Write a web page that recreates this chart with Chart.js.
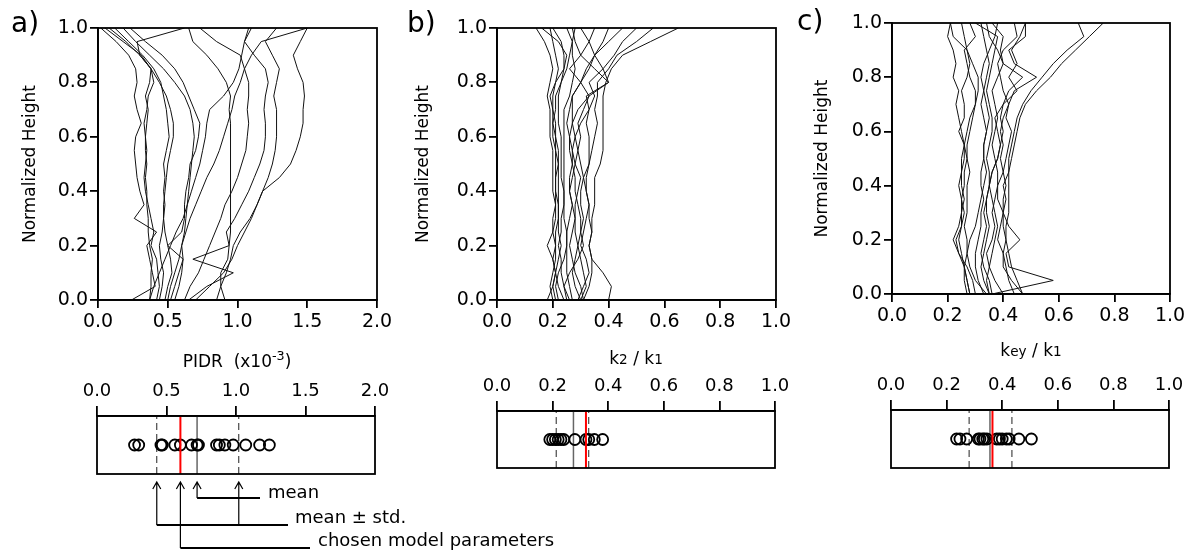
<!DOCTYPE html>
<html lang="en">
<head>
<meta charset="UTF-8">
<title>Normalized height profiles and parameter spread</title>
<script src="https://cdn.jsdelivr.net/npm/chart.js"></script>
<style>
    body { margin: 0; background: #fff; }
    #wrap { position: relative; width: 1191px; height: 552px; overflow: hidden; font-family: 'DejaVu Sans', sans-serif; color: #000; }
    canvas { position: absolute; }
    .txt { position: absolute; white-space: nowrap; line-height: 1; }
    .panel { font-size: 28px; }
    .xt { font-size: 17px; width: 200px; text-align: center; }
    .note { font-size: 18px; }
    .sb { font-size: 80%; }
</style>
</head>
<body>
<div id="wrap">
    <canvas id="profA" width="400" height="345" style="left:0;top:0"></canvas>
    <canvas id="profB" width="400" height="345" style="left:400px;top:0"></canvas>
    <canvas id="profC" width="401" height="345" style="left:790px;top:0"></canvas>
    <canvas id="stripA" width="400" height="182" style="left:0;top:370px"></canvas>
    <canvas id="stripB" width="400" height="120" style="left:400px;top:360px"></canvas>
    <canvas id="stripC" width="401" height="120" style="left:790px;top:360px"></canvas>

    <div class="txt panel" style="left:11px;top:9px">a)</div>
    <div class="txt panel" style="left:407px;top:9px">b)</div>
    <div class="txt panel" style="left:797px;top:7px">c)</div>

    <div class="txt xt" style="left:137px;top:350px">PIDR&nbsp;&nbsp;(x10<sup style="font-size:75%">-3</sup>)</div>
    <div class="txt xt" style="left:536px;top:350px">k<span class="sb">2</span> / k<span class="sb">1</span></div>
    <div class="txt xt" style="left:931px;top:342px">k<span class="sb">ey</span> / k<span class="sb">1</span></div>

    <div class="txt note" style="left:268px;top:483px">mean</div>
    <div class="txt note" style="left:295px;top:508px">mean &plusmn; std.</div>
    <div class="txt note" style="left:318px;top:531px">chosen model parameters</div>
</div>

<script>
    Chart.defaults.font.family = "'DejaVu Sans', sans-serif";
    Chart.defaults.color = '#000';

    // normalized height levels shared by all profiles
    const heights = [0, 0.05, 0.1, 0.15, 0.2, 0.25, 0.3, 0.35, 0.4, 0.45, 0.5,
                     0.55, 0.6, 0.65, 0.7, 0.75, 0.8, 0.85, 0.9, 0.95, 1.0];

    // a) PIDR (x10^-3) profiles, one row per record
    const pidrProfiles = [
        [0.24,0.41,0.39,0.37,0.35,0.42,0.26,0.33,0.30,0.28,0.27,0.26,0.27,0.31,0.28,0.26,0.28,0.27,0.22,0.13,0.02],
        [0.37,0.38,0.38,0.39,0.37,0.36,0.36,0.35,0.35,0.34,0.35,0.34,0.34,0.35,0.36,0.34,0.37,0.38,0.31,0.18,0.05],
        [0.48,0.50,0.53,0.52,0.50,0.48,0.47,0.47,0.48,0.49,0.50,0.52,0.54,0.54,0.52,0.49,0.44,0.38,0.30,0.20,0.08],
        [0.42,0.44,0.43,0.42,0.38,0.40,0.38,0.36,0.34,0.33,0.34,0.35,0.34,0.33,0.35,0.36,0.40,0.38,0.30,0.28,0.62],
        [0.44,0.46,0.47,0.45,0.44,0.46,0.47,0.48,0.47,0.48,0.47,0.49,0.51,0.50,0.49,0.47,0.45,0.40,0.32,0.22,0.12],
        [0.55,0.58,0.60,0.61,0.60,0.62,0.63,0.64,0.65,0.66,0.67,0.68,0.69,0.68,0.66,0.62,0.55,0.47,0.37,0.27,0.18],
        [0.52,0.55,0.58,0.61,0.50,0.60,0.62,0.62,0.63,0.65,0.66,0.70,0.72,0.73,0.69,0.65,0.61,0.55,0.46,0.34,0.23],
        [0.37,0.40,0.44,0.48,0.52,0.56,0.61,0.64,0.67,0.70,0.73,0.75,0.77,0.78,0.80,0.90,0.97,1.01,1.03,1.05,1.08],
        [0.91,0.88,0.88,0.93,0.94,0.95,0.95,0.95,0.95,0.95,0.95,0.95,0.95,0.95,0.94,0.95,0.92,0.86,0.78,0.68,0.65],
        [0.62,0.66,0.72,0.76,0.80,0.84,0.88,0.91,0.96,1.00,1.03,1.06,1.07,1.08,1.07,1.08,1.08,1.05,1.02,0.85,0.73],
        [0.65,0.78,0.97,0.68,0.94,0.92,0.98,1.03,1.08,1.12,1.16,1.19,1.20,1.20,1.19,1.20,1.22,1.20,1.12,1.05,1.10],
        [0.70,0.80,0.90,0.96,1.00,1.05,1.10,1.14,1.18,1.22,1.25,1.27,1.28,1.28,1.28,1.26,1.28,1.30,1.25,1.20,1.28],
        [0.85,0.88,0.92,0.95,0.97,1.02,1.09,1.14,1.18,1.30,1.38,1.42,1.45,1.47,1.47,1.48,1.47,1.43,1.40,1.45,1.50],
        [0.50,0.52,0.55,0.58,0.60,0.63,0.66,0.70,0.74,0.78,0.83,0.87,0.90,0.93,0.96,0.98,1.02,1.05,1.10,1.17,1.50]
    ];

    // b) k2 / k1 profiles
    const k2Profiles = [
        [0.18,0.20,0.21,0.20,0.18,0.20,0.21,0.21,0.20,0.20,0.20,0.20,0.19,0.19,0.19,0.18,0.19,0.20,0.19,0.17,0.14],
        [0.20,0.19,0.20,0.21,0.21,0.20,0.20,0.21,0.21,0.21,0.21,0.21,0.20,0.20,0.20,0.20,0.21,0.22,0.21,0.20,0.19],
        [0.24,0.22,0.21,0.22,0.23,0.22,0.22,0.22,0.22,0.22,0.22,0.21,0.21,0.20,0.21,0.21,0.23,0.24,0.24,0.23,0.20],
        [0.26,0.24,0.23,0.23,0.22,0.23,0.23,0.24,0.24,0.23,0.23,0.23,0.23,0.22,0.22,0.22,0.23,0.25,0.26,0.27,0.28],
        [0.27,0.26,0.25,0.25,0.25,0.25,0.24,0.24,0.24,0.24,0.24,0.24,0.24,0.24,0.24,0.26,0.27,0.28,0.27,0.27,0.25],
        [0.30,0.28,0.27,0.28,0.29,0.28,0.28,0.27,0.26,0.26,0.27,0.26,0.26,0.27,0.27,0.27,0.30,0.33,0.35,0.33,0.30],
        [0.31,0.30,0.28,0.27,0.26,0.27,0.28,0.28,0.29,0.30,0.28,0.27,0.26,0.25,0.26,0.27,0.30,0.32,0.35,0.38,0.40],
        [0.29,0.31,0.33,0.32,0.30,0.31,0.32,0.33,0.32,0.31,0.30,0.29,0.28,0.30,0.33,0.32,0.40,0.38,0.35,0.40,0.45],
        [0.40,0.41,0.38,0.34,0.33,0.34,0.33,0.33,0.32,0.32,0.33,0.33,0.33,0.32,0.33,0.35,0.33,0.38,0.42,0.45,0.50],
        [0.31,0.33,0.34,0.34,0.33,0.34,0.34,0.35,0.35,0.35,0.37,0.38,0.38,0.38,0.38,0.38,0.39,0.41,0.45,0.55,0.65],
        [0.30,0.32,0.31,0.30,0.29,0.30,0.31,0.30,0.30,0.31,0.33,0.34,0.35,0.36,0.35,0.36,0.36,0.40,0.43,0.50,0.56],
        [0.22,0.21,0.22,0.24,0.25,0.25,0.26,0.27,0.26,0.27,0.28,0.29,0.30,0.29,0.31,0.33,0.30,0.26,0.30,0.33,0.35],
        [0.21,0.20,0.21,0.20,0.21,0.21,0.22,0.22,0.21,0.21,0.22,0.22,0.21,0.21,0.20,0.19,0.21,0.24,0.25,0.22,0.16],
        [0.25,0.24,0.26,0.29,0.31,0.30,0.30,0.29,0.28,0.28,0.27,0.27,0.28,0.27,0.29,0.33,0.40,0.35,0.30,0.28,0.27]
    ];

    // c) key / k1 profiles
    const keyProfiles = [
        [0.27,0.26,0.26,0.25,0.24,0.25,0.25,0.26,0.25,0.25,0.26,0.26,0.25,0.24,0.23,0.24,0.22,0.23,0.22,0.20,0.21],
        [0.28,0.27,0.26,0.24,0.23,0.25,0.26,0.25,0.26,0.26,0.27,0.26,0.24,0.26,0.26,0.25,0.27,0.28,0.27,0.22,0.21],
        [0.34,0.30,0.28,0.27,0.27,0.26,0.27,0.27,0.27,0.28,0.27,0.27,0.28,0.29,0.30,0.30,0.28,0.27,0.26,0.30,0.28],
        [0.33,0.31,0.30,0.30,0.31,0.32,0.32,0.33,0.32,0.32,0.33,0.33,0.34,0.33,0.32,0.33,0.34,0.35,0.34,0.33,0.32],
        [0.35,0.33,0.32,0.33,0.34,0.35,0.34,0.34,0.35,0.35,0.34,0.35,0.36,0.36,0.35,0.34,0.35,0.36,0.37,0.38,0.30],
        [0.40,0.37,0.35,0.34,0.36,0.37,0.36,0.37,0.38,0.38,0.37,0.36,0.37,0.38,0.37,0.36,0.38,0.40,0.39,0.40,0.36],
        [0.47,0.43,0.40,0.40,0.38,0.39,0.40,0.40,0.41,0.40,0.39,0.40,0.39,0.40,0.42,0.40,0.39,0.38,0.40,0.45,0.44],
        [0.47,0.45,0.43,0.42,0.41,0.41,0.42,0.42,0.42,0.42,0.43,0.44,0.45,0.46,0.48,0.52,0.57,0.61,0.66,0.71,0.76],
        [0.44,0.42,0.41,0.40,0.41,0.40,0.40,0.41,0.40,0.42,0.42,0.43,0.44,0.45,0.47,0.50,0.54,0.58,0.63,0.69,0.67],
        [0.36,0.58,0.42,0.41,0.46,0.42,0.40,0.38,0.38,0.40,0.41,0.42,0.43,0.41,0.42,0.44,0.52,0.44,0.42,0.48,0.48],
        [0.35,0.34,0.35,0.36,0.37,0.38,0.37,0.36,0.35,0.36,0.38,0.39,0.40,0.39,0.40,0.45,0.42,0.45,0.43,0.46,0.48],
        [0.28,0.27,0.26,0.27,0.28,0.30,0.31,0.32,0.33,0.34,0.33,0.33,0.34,0.35,0.34,0.33,0.32,0.33,0.35,0.37,0.38],
        [0.30,0.29,0.27,0.24,0.22,0.24,0.25,0.25,0.24,0.25,0.25,0.26,0.27,0.28,0.30,0.31,0.31,0.29,0.27,0.26,0.25],
        [0.36,0.35,0.33,0.32,0.33,0.34,0.33,0.34,0.35,0.36,0.38,0.39,0.38,0.37,0.40,0.42,0.47,0.40,0.38,0.35,0.34]
    ];

    // per-record parameter values (lower strips)
    const pidrValues = [0.27, 0.30, 0.46, 0.47, 0.56, 0.60, 0.68, 0.72, 0.73, 0.86, 0.88, 0.92, 0.98, 1.07, 1.17, 1.24];
    const k2Values   = [0.19, 0.20, 0.21, 0.22, 0.23, 0.24, 0.28, 0.32, 0.33, 0.35, 0.38];
    const keyValues  = [0.236, 0.248, 0.272, 0.314, 0.32, 0.33, 0.336, 0.345, 0.38, 0.39, 0.40, 0.415, 0.425, 0.46, 0.505];

    // [mean - std, mean, mean + std, chosen]
    const pidrStats = [0.43, 0.72, 1.02, 0.60];
    const k2Stats   = [0.213, 0.275, 0.33, 0.32];
    const keyStats  = [0.281, 0.356, 0.435, 0.365];

    // box around the plotting area
    const framePlugin = {
        id: 'frame',
        afterDatasetsDraw(chart) {
            const { ctx, chartArea: a } = chart;
            ctx.save();
            ctx.strokeStyle = '#000';
            ctx.lineWidth = 1.8;
            ctx.strokeRect(a.left, a.top, a.right - a.left, a.bottom - a.top);
            ctx.restore();
        }
    };

    function profileChart(id, profiles, xMax, xStep, yW, xH, pad, titlePad) {
        return new Chart(document.getElementById(id), {
            type: 'scatter',
            data: {
                datasets: profiles.map(p => ({
                    data: p.map((v, i) => ({ x: v, y: heights[i] })),
                    showLine: true,
                    borderColor: '#111',
                    borderWidth: 1,
                    pointRadius: 0
                }))
            },
            options: {
                responsive: false,
                animation: false,
                layout: { padding: pad },
                plugins: { legend: { display: false }, tooltip: { enabled: false } },
                scales: {
                    x: {
                        type: 'linear', min: 0, max: xMax,
                        ticks: { stepSize: xStep, font: { size: 19 }, padding: 3, callback: v => v.toFixed(1) },
                        grid: { drawOnChartArea: false, tickLength: 8, color: '#000', lineWidth: 1.8 },
                        border: { color: '#000', width: 1.8 },
                        afterFit: s => { s.height = xH; }
                    },
                    y: {
                        type: 'linear', min: 0, max: 1,
                        ticks: { stepSize: 0.2, font: { size: 19 }, padding: 2, callback: v => v.toFixed(1) },
                        grid: { drawOnChartArea: false, tickLength: 8, color: '#000', lineWidth: 1.8 },
                        border: { color: '#000', width: 1.8 },
                        title: { display: true, text: 'Normalized Height', font: { size: 17 }, padding: { top: titlePad, bottom: 0 } },
                        afterFit: s => { s.width = yW; }
                    }
                }
            },
            plugins: [framePlugin]
        });
    }

    function vline(v, color, width, dash) {
        return {
            data: [{ x: v, y: 0 }, { x: v, y: 1 }],
            showLine: true, borderColor: color, borderWidth: width,
            borderDash: dash, pointRadius: 0
        };
    }

    function stripChart(id, values, stats, xMax, xStep, xH, pad, extra) {
        return new Chart(document.getElementById(id), {
            type: 'scatter',
            data: {
                datasets: [
                    vline(stats[3], '#ff0000', 2, []),
                    {
                        data: values.map(v => ({ x: v, y: 0.5 })),
                        pointRadius: 5.5,
                        pointBorderWidth: 1.8,
                        borderColor: '#000',
                        backgroundColor: 'rgba(0,0,0,0)'
                    },
                    vline(stats[1], '#666', 1.5, []),
                    vline(stats[0], '#222', 1, [7, 4]),
                    vline(stats[2], '#222', 1, [7, 4])
                ]
            },
            options: {
                responsive: false,
                animation: false,
                layout: { padding: pad },
                plugins: { legend: { display: false }, tooltip: { enabled: false } },
                scales: {
                    x: {
                        type: 'linear', position: 'top', min: 0, max: xMax,
                        ticks: { stepSize: xStep, font: { size: 18 }, padding: 4, callback: v => v.toFixed(1) },
                        grid: { drawOnChartArea: false, tickLength: 10, color: '#000', lineWidth: 1.8 },
                        border: { color: '#000', width: 1.8 },
                        afterFit: s => { s.height = xH; }
                    },
                    y: { type: 'linear', min: 0, max: 1, display: false }
                }
            },
            plugins: extra ? [framePlugin, extra] : [framePlugin]
        });
    }

    // arrows and connectors under strip a, positioned on the x scale
    const arrowPlugin = {
        id: 'arrows',
        afterDraw(chart) {
            const { ctx, chartArea } = chart;
            const xs = chart.scales.x;
            const tip = chartArea.bottom + 8;
            const up = (px, y2) => {
                ctx.lineWidth = 1.2;
                ctx.beginPath();
                ctx.moveTo(px, tip); ctx.lineTo(px, y2);
                ctx.moveTo(px - 4, tip + 7); ctx.lineTo(px, tip); ctx.lineTo(px + 4, tip + 7);
                ctx.stroke();
            };
            const bar = (x1, x2, y) => {
                ctx.lineWidth = 2.2;
                ctx.beginPath(); ctx.moveTo(x1, y); ctx.lineTo(x2, y); ctx.stroke();
            };
            ctx.save();
            ctx.strokeStyle = '#000';
            const lo = xs.getPixelForValue(pidrStats[0]);
            const mn = xs.getPixelForValue(pidrStats[1]);
            const hi = xs.getPixelForValue(pidrStats[2]);
            const ch = xs.getPixelForValue(pidrStats[3]);
            up(mn, tip + 16); bar(mn, 260, tip + 16);
            up(lo, tip + 43); up(hi, tip + 43); bar(lo, 288, tip + 43);
            up(ch, tip + 66); bar(ch, 310, tip + 66);
            ctx.restore();
        }
    };

    profileChart('profA', pidrProfiles, 2, 0.5, 98, 45, { left: 0, top: 28, right: 23, bottom: 0 }, 20);
    profileChart('profB', k2Profiles, 1, 0.2, 97, 45, { left: 0, top: 28, right: 24, bottom: 0 }, 13);
    profileChart('profC', keyProfiles, 1, 0.2, 102, 51, { left: 0, top: 23, right: 21, bottom: 0 }, 22);

    stripChart('stripA', pidrValues, pidrStats, 2, 0.5, 46, { left: 97, top: 0, right: 25, bottom: 78 }, arrowPlugin);
    stripChart('stripB', k2Values, k2Stats, 1, 0.2, 51, { left: 97, top: 0, right: 25, bottom: 12 });
    stripChart('stripC', keyValues, keyStats, 1, 0.2, 50, { left: 101, top: 0, right: 22, bottom: 12 });
</script>
</body>
</html>
